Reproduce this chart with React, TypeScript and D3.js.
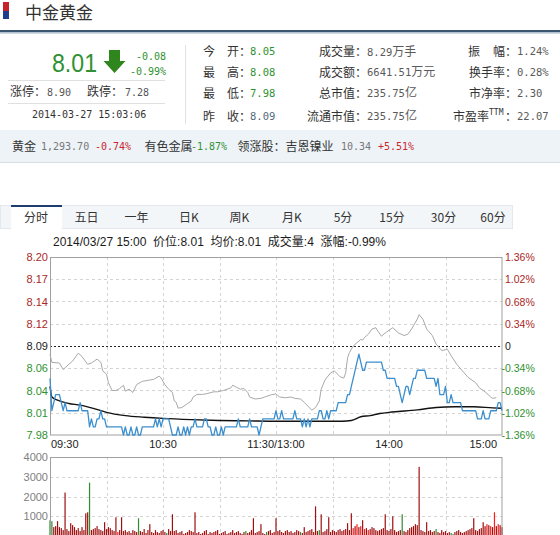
import React from 'react';
import * as d3 from 'd3';

// ---------- DATA ----------
const prevClose = 8.09;
const priceTickLabels = ['8.20', '8.17', '8.14', '8.12', '8.09', '8.06', '8.04', '8.01', '7.98'];
const pctTickLabels = ['1.36%', '1.02%', '0.68%', '0.34%', '0', '-0.34%', '-0.68%', '-1.02%', '-1.36%'];
const timeLabels = ['09:30', '10:30', '11:30/13:00', '14:00', '15:00'];
const timeLabelMinutes = [0, 60, 120, 180, 240];
const volTickLabels = ['4000', '3000', '2000', '1000'];
const volTickValues = [4000, 3000, 2000, 1000];
const tabLabels = ['分时', '五日', '一年', '日K', '周K', '月K', '5分', '15分', '30分', '60分'];
const tabCenters = [36, 86.5, 136.5, 189, 239.5, 292, 343, 392, 443.5, 493];

// minute-by-minute price (09:30 .. 11:30, 13:00 .. 15:00)
const price: number[] = [
  8.05, 8.01, 8.02, 8.03, 8.03, 8.03, 8.02, 8.01, 8.02, 8.01,
  8.01, 8.01, 8.01, 8.01, 8.01, 8.01, 8.02, 8.01, 8.01, 8.01,
  8.01, 7.99, 8.00, 7.99, 7.99, 8.00, 8.00, 8.01, 8.00, 8.00,
  7.99, 7.99, 7.99, 7.99, 7.99, 7.99, 7.99, 7.99, 7.99, 7.98,
  7.99, 7.98, 7.98, 7.99, 7.98, 7.98, 7.99, 7.98, 7.98, 7.99,
  7.99, 7.99, 7.99, 7.99, 7.99, 7.99, 8.00, 7.99, 8.00, 7.99,
  8.00, 8.00, 8.00, 8.00, 7.99, 7.98, 7.98, 7.98, 7.99, 7.98,
  7.98, 7.99, 7.98, 7.99, 7.98, 7.99, 7.99, 8.00, 7.99, 7.99,
  7.99, 7.99, 8.00, 8.00, 7.99, 7.99, 7.98, 7.98, 7.99, 7.98,
  7.98, 7.99, 7.98, 7.99, 7.99, 7.99, 7.99, 7.99, 7.99, 7.99,
  8.00, 7.99, 7.99, 7.99, 7.99, 7.99, 8.00, 7.99, 7.99, 7.99,
  7.99, 7.98, 7.99, 8.00, 8.00, 8.00, 8.00, 8.00, 8.00, 8.00,
  8.01, 8.00, 8.00, 8.01, 8.00, 8.00, 8.00, 8.00, 8.00, 8.00,
  8.01, 8.00, 8.00, 8.00, 7.99, 8.00, 7.99, 8.00, 7.99, 8.00,
  8.00, 8.00, 8.00, 8.01, 8.01, 8.00, 8.00, 8.01, 8.00, 8.01,
  8.01, 8.01, 8.01, 8.02, 8.02, 8.02, 8.02, 8.02, 8.03, 8.03,
  8.04, 8.05, 8.06, 8.07, 8.08, 8.07, 8.06, 8.06, 8.07, 8.07,
  8.07, 8.07, 8.07, 8.07, 8.07, 8.07, 8.07, 8.06, 8.06, 8.05,
  8.05, 8.05, 8.05, 8.05, 8.04, 8.04, 8.03, 8.02, 8.03, 8.04,
  8.04, 8.03, 8.04, 8.05, 8.05, 8.06, 8.06, 8.06, 8.06, 8.06,
  8.05, 8.05, 8.05, 8.05, 8.05, 8.04, 8.05, 8.03, 8.03, 8.03,
  8.04, 8.02, 8.02, 8.03, 8.02, 8.02, 8.02, 8.02, 8.02, 8.01,
  8.01, 8.01, 8.01, 8.01, 8.01, 8.01, 8.01, 8.00, 8.00, 8.00,
  8.01, 8.00, 8.00, 8.00, 8.01, 8.01, 8.01, 8.01, 8.02, 8.02,
  8.01,
];

// reference index line (gray), % change, read at these minutes
const grayMinutes = [0, 1, 5, 7, 10, 12, 15, 17, 20, 22, 25, 27, 28, 30, 31, 33, 35, 37, 39, 40, 42, 44, 46, 49, 53, 55, 58, 59, 61, 63, 65, 66, 67, 68, 70, 73, 75, 76, 78, 81, 83, 87, 89, 92, 96, 97, 99, 101, 103, 105, 106, 109, 112, 114, 117, 120, 121, 122, 125, 128, 130, 133, 135, 137, 139, 141, 143, 144, 146, 149, 151, 152, 154, 156, 157, 158, 159, 161, 163, 165, 166, 167, 169, 171, 173, 174, 176, 178, 181, 182, 185, 188, 190, 192, 195, 196, 198, 200, 203, 205, 208, 211, 213, 216, 219, 222, 226, 228, 231, 234, 235, 237];
const grayPct = [-0.13, -0.25, -0.26, -0.36, -0.28, -0.23, -0.11, -0.16, -0.28, -0.26, -0.20, -0.25, -0.38, -0.43, -0.56, -0.68, -0.68, -0.65, -0.60, -0.69, -0.66, -0.71, -0.59, -0.54, -0.52, -0.51, -0.46, -0.49, -0.59, -0.66, -0.71, -0.84, -0.86, -0.95, -0.94, -0.88, -0.84, -0.78, -0.74, -0.74, -0.73, -0.70, -0.70, -0.68, -0.64, -0.60, -0.63, -0.66, -0.65, -0.71, -0.78, -0.81, -0.80, -0.78, -0.75, -0.73, -0.76, -0.78, -0.79, -0.78, -0.80, -0.81, -0.86, -0.92, -0.98, -0.94, -0.84, -0.66, -0.52, -0.41, -0.38, -0.41, -0.47, -0.49, -0.41, -0.18, -0.10, 0.00, 0.05, 0.10, 0.09, 0.13, 0.18, 0.26, 0.28, 0.23, 0.15, 0.20, 0.26, 0.28, 0.20, 0.16, 0.18, 0.26, 0.41, 0.48, 0.41, 0.26, 0.16, 0.03, -0.07, -0.05, -0.15, -0.28, -0.38, -0.48, -0.56, -0.64, -0.70, -0.78, -0.80, -0.79];

// average price line (black)
const avgMinutes = [0, 1, 4, 10, 16, 23, 30, 40, 50, 60, 75, 90, 105, 120, 140, 155, 160, 165, 170, 175, 180, 185, 195, 205, 215, 225, 235, 240];
const avgPrice = [8.04, 8.027, 8.023, 8.019, 8.017, 8.013, 8.008, 8.004, 8.002, 8.0005, 7.999, 7.998, 7.9975, 7.997, 7.997, 7.997, 7.998, 8.0025, 8.004, 8.0065, 8.008, 8.009, 8.011, 8.014, 8.015, 8.015, 8.0135, 8.013];

// minute volume (lots)
const volume: number[] = [
  800, 750, 450, 500, 750, 450, 400, 300, 2200, 350,
  250, 650, 550, 450, 300, 400, 250, 450, 300, 1150,
  1200, 2700, 300, 350, 400, 500, 350, 300, 250, 700,
  350, 450, 400, 300, 250, 950, 200, 300, 950, 250,
  300, 200, 250, 150, 300, 250, 200, 900, 250, 200,
  350, 150, 300, 600, 200, 150, 300, 200, 150, 250,
  300, 200, 150, 350, 250, 1100, 250, 300, 150, 200,
  250, 100, 150, 200, 300, 250, 200, 1200, 150, 200,
  100, 150, 250, 300, 100, 200, 150, 200, 250, 300,
  100, 150, 200, 250, 100, 150, 200, 300, 150, 200,
  250, 150, 100, 200, 250, 150, 200, 300, 900, 150,
  200, 250, 600, 150, 100, 200, 250, 300, 150, 200,
  900, 250, 300, 200, 150, 250, 300, 200, 250, 150,
  200, 300, 250, 200, 150, 450, 200, 250, 300, 350,
  200, 1500, 250, 300, 1100, 200, 250, 350, 950, 200,
  300, 250, 200, 300, 350, 250, 300, 350, 650, 300,
  1150, 400, 500, 600, 450, 500, 800, 350, 400, 300,
  350, 450, 400, 300, 250, 300, 350, 400, 1100, 300,
  250, 350, 1000, 300, 200, 250, 300, 1100, 250, 200,
  300, 400, 450, 500, 600, 550, 3500, 300, 250, 200,
  700, 250, 300, 200, 250, 350, 200, 150, 300, 200,
  250, 150, 200, 150, 100, 200, 250, 300, 200, 150,
  200, 250, 300, 350, 400, 900, 300, 250, 350, 400,
  700, 500, 600, 550, 500, 450, 1200, 500, 600, 550,
  450,
];
const volGreen = [0, 1, 21, 47, 62, 104, 115, 133, 143, 187, 205, 213, 214];
const volBright = [36, 161, 163, 165, 167, 169, 232, 234, 236, 238];

// ---------- STYLE ----------
const CJK = '"Noto Sans CJK SC", "Noto Sans", sans-serif';
const MONO = '"DejaVu Sans Mono", "Liberation Mono", monospace';
const ARIAL = '"Liberation Sans", Arial, sans-serif';
const GREEN = '#2f9131';
const RED = '#c8282d';
const AXRED = '#a82828';

const rowY = [51.5, 72, 93, 116];

function runs(s: string): [string, boolean][] {
  const out: [string, boolean][] = [];
  let cur = '';
  let curC: boolean | null = null;
  for (const ch of s) {
    const c = /[\u3000-\u9fff\uff00-\uffef]/.test(ch);
    if (curC === null || c === curC) {
      cur += ch;
      curC = c;
    } else {
      out.push([cur, curC]);
      cur = ch;
      curC = c;
    }
  }
  if (cur) out.push([cur, !!curC]);
  return out;
}

function Mixed({ x, y, s, fill }: { x: number; y: number; s: string; fill: string }) {
  return (
    <text x={x} y={y} fill={fill}>
      {runs(s).map(([t, c], i) => (
        <tspan key={i} fontFamily={c ? CJK : MONO} fontSize={c ? 12 : 10.5}>
          {t}
        </tspan>
      ))}
    </text>
  );
}

export default function App() {
  const x = d3.scaleLinear().domain([0, 240]).range([50, 502]);
  const py = d3.scaleLinear().domain([prevClose - 0.11, prevClose + 0.11]).range([435, 257]);
  const pcty = d3.scaleLinear().domain([-1.36, 1.36]).range([435, 257]);
  const vy = d3.scaleLinear().domain([0, 4000]).range([536, 457]);

  const priceLine = d3.line<number>().x((_, i) => x(i)).y((d) => py(d))(price) || '';
  const grayLine =
    d3
      .line<number>()
      .x((_, i) => x(grayMinutes[i]))
      .y((d) => pcty(d))(grayPct) || '';
  const avgLine =
    d3
      .line<number>()
      .x((_, i) => x(avgMinutes[i]))
      .y((d) => py(d))
      .curve(d3.curveMonotoneX)(avgPrice) || '';

  const gridSteps = d3.range(9).map((k) => prevClose + 0.11 - k * 0.0275);
  const vGrid = d3.range(30, 240, 30);

  const col1First = ['今', '最', '最', '昨'];
  const col1Second = ['开：', '高：', '低：', '收：'];
  const col1Values = ['8.05', '8.08', '7.98', '8.09'];
  const col1Colors = [GREEN, GREEN, GREEN, '#55697d'];
  const col2Labels = ['成交量：', '成交额：', '总市值：', '流通市值：'];
  const col2Values = ['8.29万手', '6641.51万元', '235.75亿', '235.75亿'];
  const col3Values = ['1.24%', '0.28%', '2.30', '22.07'];

  const greenSet = new Set(volGreen);
  const brightSet = new Set(volBright);

  return (
    <svg
      width={560}
      height={535}
      style={{ position: 'absolute', left: 0, top: 0, background: '#fff' }}
      fontFamily={ARIAL}
    >
      {/* header */}
      <rect x={3} y={2} width={6} height={9} fill="#c8202c" />
      <rect x={3} y={11} width={6} height={8} fill="#1e3c8c" />
      <text x={25} y={19} fontFamily={CJK} fontSize={17} fill="#333">
        中金黄金
      </text>
      <rect x={0} y={30} width={560} height={2.5} fill="#3a5670" />
      <rect x={0} y={32.5} width={560} height={1.5} fill="#cdd8e2" />

      <text x={52} y={72} fontSize={26} fill={GREEN} textLength={45} lengthAdjust="spacingAndGlyphs">
        8.01
      </text>
      <polygon points="109,50 120,50 120,61 125.5,61 114.5,73 103.5,61 109,61" fill="#2f861d" />
      <text x={166} y={60} textAnchor="end" fontFamily={MONO} fontSize={10} fill={GREEN}>
        -0.08
      </text>
      <text x={166} y={75} textAnchor="end" fontFamily={MONO} fontSize={10} fill={GREEN}>
        -0.99%
      </text>
      <line x1={8} x2={165} y1={80.5} y2={80.5} stroke="#e0e0e0" />
      <text x={10} y={96} fontFamily={CJK} fontSize={12} fill="#333">
        涨停：
      </text>
      <text x={47} y={95.5} fontFamily={MONO} fontSize={10} fill="#555">
        8.90
      </text>
      <text x={87} y={96} fontFamily={CJK} fontSize={12} fill="#333">
        跌停：
      </text>
      <text x={125} y={95.5} fontFamily={MONO} fontSize={10} fill="#555">
        7.28
      </text>
      <line x1={8} x2={165} y1={103.5} y2={103.5} stroke="#e0e0e0" />
      <text x={32} y={118} fontFamily={MONO} fontSize={10} fill="#333">
        2014-03-27 15:03:06
      </text>
      <line x1={185.5} x2={185.5} y1={45} y2={124} stroke="#e2e2e2" />

      {rowY.map((cy, i) => (
        <g key={'r' + i}>
          <text x={203} y={cy + 4.5} fontFamily={CJK} fontSize={12} fill="#333">
            {col1First[i]}
          </text>
          <text x={251} y={cy + 4.5} textAnchor="end" fontFamily={CJK} fontSize={12} fill="#333">
            {col1Second[i]}
          </text>
          <text x={250} y={cy + 3.5} fontFamily={MONO} fontSize={10.5} fill={col1Colors[i]}>
            {col1Values[i]}
          </text>
          <text x={367} y={cy + 4.5} textAnchor="end" fontFamily={CJK} fontSize={12} fill="#333">
            {col2Labels[i]}
          </text>
          <Mixed x={367} y={cy + 4} s={col2Values[i]} fill="#5a5a5a" />
          <text x={517} y={cy + 3.5} fontFamily={MONO} fontSize={10.5} fill="#5a5a5a">
            {col3Values[i]}
          </text>
        </g>
      ))}
      <text x={468} y={rowY[0] + 4.5} fontFamily={CJK} fontSize={12} fill="#333">
        振
      </text>
      <text x={517} y={rowY[0] + 4.5} textAnchor="end" fontFamily={CJK} fontSize={12} fill="#333">
        幅：
      </text>
      <text x={517} y={rowY[1] + 4.5} textAnchor="end" fontFamily={CJK} fontSize={12} fill="#333">
        换手率：
      </text>
      <text x={517} y={rowY[2] + 4.5} textAnchor="end" fontFamily={CJK} fontSize={12} fill="#333">
        市净率：
      </text>
      <text x={489} y={rowY[3] + 4.5} textAnchor="end" fontFamily={CJK} fontSize={12} fill="#333">
        市盈率
      </text>
      <text x={489} y={rowY[3] - 1} fontFamily={MONO} fontSize={8} fill="#333">
        TTM
      </text>
      <text x={517} y={rowY[3] + 4.5} textAnchor="end" fontFamily={CJK} fontSize={12} fill="#333">
        ：
      </text>

      {/* info bar */}
      <rect x={0} y={130} width={560} height={32} fill="#eef3f8" />
      <line x1={0} x2={560} y1={162.5} y2={162.5} stroke="#d6dfe8" />
      <text x={12} y={150.5} fontFamily={CJK} fontSize={12} fill="#333">
        黄金
      </text>
      <text x={41} y={150} fontFamily={MONO} fontSize={10} fill="#777">
        1,293.70
      </text>
      <text x={95} y={150} fontFamily={MONO} fontSize={10} fill={RED}>
        -0.74%
      </text>
      <text x={144.5} y={150.5} fontFamily={CJK} fontSize={12} fill="#333">
        有色金属
      </text>
      <text x={191} y={150} fontFamily={MONO} fontSize={10} fill={GREEN}>
        -1.87%
      </text>
      <text x={237.5} y={150.5} fontFamily={CJK} fontSize={12} fill="#333">
        领涨股：吉恩镍业
      </text>
      <text x={341} y={150} fontFamily={MONO} fontSize={10} fill="#777">
        10.34
      </text>
      <text x={378} y={150} fontFamily={MONO} fontSize={10} fill={RED}>
        +5.51%
      </text>

      {/* tabs */}
      <rect x={0.5} y={205.5} width={512} height={23} fill="#f3f6f9" stroke="#e3e8ee" />
      <rect x={11} y={206} width={51} height={23} fill="#fff" />
      <rect x={11} y={205} width={51} height={2} fill="#1f3c70" />
      {tabLabels.map((t, i) => (
        <text key={t} x={tabCenters[i]} y={222} textAnchor="middle" fontFamily={CJK} fontSize={12} fill="#333">
          {t}
        </text>
      ))}

      {/* title */}
      <text x={53} y={246} fontSize={12} fill="#1a1a1a" style={{ whiteSpace: 'pre' }}>
        {'2014/03/27 15:00  '}
        <tspan fontFamily={CJK}>价位</tspan>
        {':8.01  '}
        <tspan fontFamily={CJK}>均价</tspan>
        {':8.01  '}
        <tspan fontFamily={CJK}>成交量</tspan>
        {':4  '}
        <tspan fontFamily={CJK}>涨幅</tspan>
        {':-0.99%'}
      </text>

      {/* price grid */}
      {gridSteps.map((v, k) =>
        k === 0 || k === 8 ? null : (
          <line
            key={'hg' + k}
            x1={50}
            x2={502}
            y1={Math.round(py(v)) + 0.5}
            y2={Math.round(py(v)) + 0.5}
            stroke={k === 4 ? '#222' : '#d4d4d4'}
            strokeDasharray={k === 4 ? '2,2' : '3,3'}
          />
        )
      )}
      {vGrid.map((m) => (
        <line
          key={'vg' + m}
          x1={Math.round(x(m)) + 0.5}
          x2={Math.round(x(m)) + 0.5}
          y1={257}
          y2={435}
          stroke="#d4d4d4"
          strokeDasharray="3,3"
        />
      ))}
      <rect x={50.5} y={257.5} width={451.5} height={177.5} fill="none" stroke="#a0a0a0" />

      {gridSteps.map((v, k) => (
        <text
          key={'pl' + k}
          x={48}
          y={py(v) + 4}
          textAnchor="end"
          fontSize={11}
          fill={k < 4 ? AXRED : k === 4 ? '#222' : GREEN}
        >
          {priceTickLabels[k]}
        </text>
      ))}
      {gridSteps.map((v, k) => (
        <text
          key={'pr' + k}
          x={pctTickLabels[k].startsWith('-') ? 501.5 : 505}
          y={py(v) + 4}
          fontSize={10.5}
          fill={k < 4 ? AXRED : k === 4 ? '#222' : GREEN}
        >
          {pctTickLabels[k]}
        </text>
      ))}

      <path d={grayLine} fill="none" stroke="#a9a9a9" strokeWidth={1} />
      <path d={avgLine} fill="none" stroke="#111" strokeWidth={1.4} />
      <path d={priceLine} fill="none" stroke="#3b8fcf" strokeWidth={1.3} strokeLinejoin="round" />

      {timeLabels.map((t, i) => {
        const m = timeLabelMinutes[i];
        const anchor = i === 0 ? 'start' : i === timeLabels.length - 1 ? 'end' : 'middle';
        const tx = i === 0 ? x(m) + 1 : i === timeLabels.length - 1 ? x(m) - 5 : x(m);
        return (
          <text key={t} x={tx} y={448} textAnchor={anchor} fontSize={11} fill="#222">
            {t}
          </text>
        );
      })}

      {/* volume */}
      {volTickValues.slice(1).map((v) => (
        <line
          key={'vh' + v}
          x1={50}
          x2={502}
          y1={Math.round(vy(v)) + 0.5}
          y2={Math.round(vy(v)) + 0.5}
          stroke="#d4d4d4"
          strokeDasharray="3,3"
        />
      ))}
      {vGrid.map((m) => (
        <line
          key={'vv' + m}
          x1={Math.round(x(m)) + 0.5}
          x2={Math.round(x(m)) + 0.5}
          y1={457}
          y2={536}
          stroke="#d4d4d4"
          strokeDasharray="3,3"
        />
      ))}
      {volume.map((v, i) => (
        <rect
          key={'b' + i}
          x={x(i) - 0.6}
          y={vy(v)}
          width={1.2}
          height={vy(0) - vy(v)}
          fill={greenSet.has(i) ? '#2e8b2e' : brightSet.has(i) ? '#ff1a1a' : '#a00f0f'}
        />
      ))}
      <rect x={50.5} y={457.5} width={451.5} height={80} fill="none" stroke="#a0a0a0" />
      {volTickValues.map((v, i) => (
        <text key={'vl' + v} x={48} y={vy(v) + 4} textAnchor="end" fontSize={11} fill="#808080">
          {volTickLabels[i]}
        </text>
      ))}
    </svg>
  );
}
